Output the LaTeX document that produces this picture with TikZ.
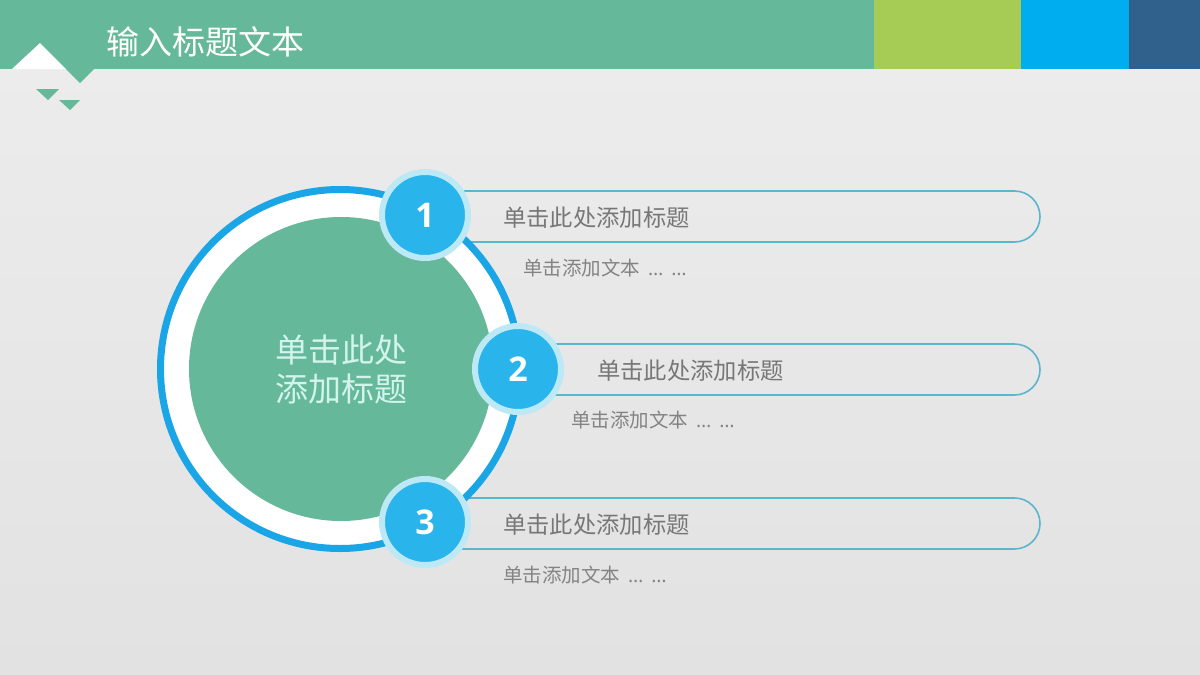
\documentclass[tikz,border=0pt]{standalone}
\usepackage{fontspec}
\setmainfont{Noto Sans CJK SC}
\newfontfamily\numfont{Open Sans}
\newfontfamily\latfont{Open Sans}
\usetikzlibrary{shapes.misc}
\definecolor{bargreen}{HTML}{66B89A}
\definecolor{barlime}{HTML}{A6CC55}
\definecolor{barblue}{HTML}{00AEEF}
\definecolor{barnavy}{HTML}{2F618C}
\definecolor{ringblue}{HTML}{1AA6E6}
\definecolor{numblue}{HTML}{29B4EC}
\definecolor{numrim}{HTML}{BDE8F5}
\definecolor{pillline}{HTML}{5BB5CD}
\definecolor{titlegray}{HTML}{777777}
\definecolor{subgray}{HTML}{838383}
\definecolor{mint}{HTML}{D2F4EC}
\newcommand{\subdots}{{\latfont\hspace{8pt}…\hspace{8pt}…}}
\tikzset{
  pill/.style={rounded rectangle, rounded rectangle left arc=none, draw=pillline, line width=1.6pt, minimum height=51pt, inner sep=0pt},
  numcircle/.style={circle, fill=numblue, draw=numrim, line width=6pt, minimum size=86pt, inner sep=0pt, text=white, font=\numfont\bfseries\fontsize{34}{36}\selectfont},
  ptitle/.style={anchor=west, inner sep=0pt, text=titlegray, font=\fontsize{23.3}{26}\selectfont},
  psub/.style={anchor=west, inner sep=0pt, text=subgray, font=\fontsize{19.5}{22}\selectfont},
}
\begin{document}
\begin{tikzpicture}[x=1pt,y=-1pt]
\useasboundingbox (0,0) rectangle (1200,675);
% background
\shade[top color={rgb,255:red,237;green,237;blue,237}, bottom color={rgb,255:red,226;green,226;blue,226}] (0,0) rectangle (1200,675);
% header bar
\fill[bargreen] (0,0) rectangle (874,69);
\fill[barlime] (874,0) rectangle (1021,69);
\fill[barblue] (1021,0) rectangle (1129,69);
\fill[barnavy] (1129,0) rectangle (1200,69);
\fill[white] (12,69) -- (40,43) -- (66,69) -- cycle;
\fill[bargreen] (66,69) -- (80,83) -- (94,69) -- cycle;
\fill[bargreen] (36,89) -- (59,89) -- (48,100) -- cycle;
\fill[bargreen] (59,100) -- (80,100) -- (70,110) -- cycle;
\node[anchor=west, inner sep=0pt, text=white, font=\fontsize{33}{36}\selectfont] (title) at (106,42) {输入标题文本};
% pills
\node[pill, minimum width=615pt] (pill1) at (732.5,216.5) {};
\node[pill, minimum width=522pt] (pill2) at (779,369.5) {};
\node[pill, minimum width=615pt] (pill3) at (732.5,523.5) {};
% big circle
\node[circle, draw=ringblue, line width=7pt, fill=white, minimum size=359pt, inner sep=0pt] (ring) at (340,369) {};
\node[circle, fill=bargreen, minimum size=304pt, inner sep=0pt, text=mint, align=center, font=\fontsize{33}{39}\selectfont] (core) at (341,369) {单击此处\\添加标题};
% number circles
\node[numcircle] (n1) at (425,215) {1};
\node[numcircle] (n2) at (518,369) {2};
\node[numcircle] (n3) at (425,522) {3};
% texts
\node[ptitle] (t1) at (503,218) {单击此处添加标题};
\node[psub] (s1) at (523,268) {单击添加文本\subdots};
\node[ptitle] (t2) at (597,371) {单击此处添加标题};
\node[psub] (s2) at (571,420) {单击添加文本\subdots};
\node[ptitle] (t3) at (503,525) {单击此处添加标题};
\node[psub] (s3) at (503,575) {单击添加文本\subdots};
\end{tikzpicture}
\end{document}
